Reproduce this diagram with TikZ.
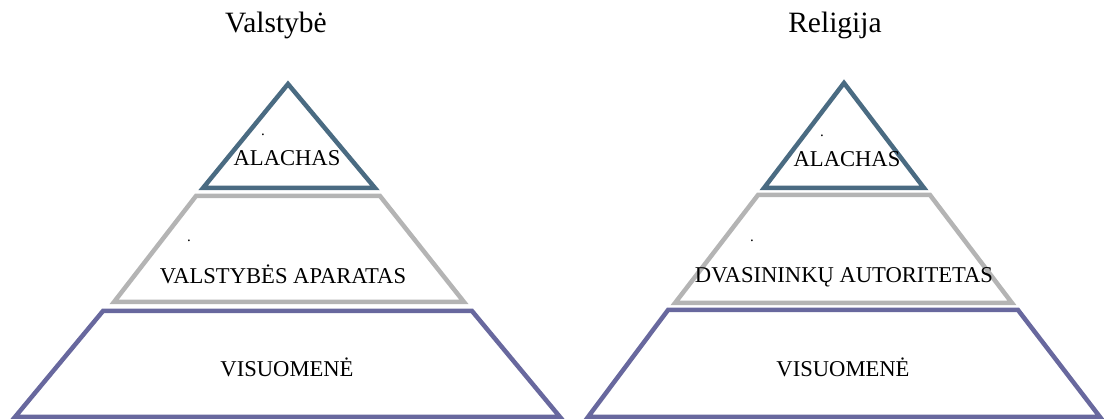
\documentclass[tikz,border=0pt]{standalone}
\usepackage{fontspec}
\setmainfont{Liberation Serif}
\definecolor{topblue}{RGB}{74,107,130}
\definecolor{midgray}{RGB}{180,180,180}
\definecolor{botpurple}{RGB}{104,104,158}
\begin{document}
\begin{tikzpicture}[x=1pt,y=-1pt,
  layer/.style={line width=4.5pt,line join=miter,fill=white},
  lbl/.style={anchor=base,inner sep=0pt,font=\fontsize{22.6}{26}\selectfont},
  ttl/.style={anchor=base,inner sep=0pt,font=\fontsize{29.5}{34}\selectfont},
  dotlbl/.style={anchor=base,inner sep=0pt,font=\fontsize{15}{17}\selectfont}]
\useasboundingbox (0,0) rectangle (1104,419);
% left pyramid
\draw[layer,draw=botpurple] (103,311) -- (472,311) -- (560,417) -- (15,417) -- cycle;
\draw[layer,draw=midgray] (196,196) -- (380,196) -- (464,302) -- (114,302) -- cycle;
\draw[layer,draw=topblue] (288,84) -- (375,188) -- (203,188) -- cycle;
% right pyramid
\draw[layer,draw=botpurple] (668,310) -- (1018,310) -- (1100,417) -- (588,417) -- cycle;
\draw[layer,draw=midgray] (758,195) -- (930,195) -- (1012,303) -- (675,303) -- cycle;
\draw[layer,draw=topblue] (844,83) -- (924,188) -- (764,188) -- cycle;
% titles
\node[ttl] (t1) at (276,33) {Valstybė};
\node[ttl] (t2) at (835,33) {Religija};
% labels left
\node[dotlbl] (d1) at (263,136) {.};
\node[lbl] (l1) at (287,166) {ALACHAS};
\node[dotlbl] (d2) at (189,242) {.};
\node[lbl] (l2) at (283,284) {VALSTYBĖS APARATAS};
\node[lbl] (l3) at (287,377) {VISUOMENĖ};
% labels right
\node[dotlbl] (d3) at (822,137) {.};
\node[lbl] (r1) at (847,167) {ALACHAS};
\node[dotlbl] (d4) at (752,242) {.};
\node[lbl] (r2) at (844,283) {DVASININKŲ AUTORITETAS};
\node[lbl] (r3) at (843,377) {VISUOMENĖ};
\end{tikzpicture}
\end{document}
